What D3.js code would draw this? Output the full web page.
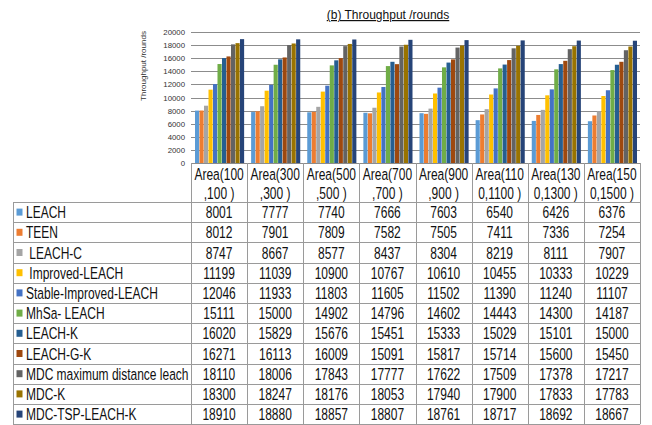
<!DOCTYPE html>
<html>
<head>
<meta charset="utf-8">
<script src="https://cdn.jsdelivr.net/npm/d3@7"></script>
<style>
  body { margin: 0; background: #fff; }
  svg { display: block; font-family: "Liberation Sans", Arial, sans-serif; }
  text { white-space: pre; }
</style>
</head>
<body>
<svg id="chart" width="652" height="425"></svg>
<script>
// header text of each area column (two lines)
const areas = [
    ["Area(100", ",100 )"],
    ["Area(300", ",300 )"],
    ["Area(500", ",500 )"],
    ["Area(700", ",700 )"],
    ["Area(900", ",900 )"],
    ["Area(110", "0,1100 )"],
    ["Area(130", "0,1300 )"],
    ["Area(150", "0,1500 )"]
];

const seriesNames = [
    "LEACH", "TEEN", " LEACH-C", " Improved-LEACH", "Stable-Improved-LEACH",
    "MhSa- LEACH", "LEACH-K", "LEACH-G-K", "MDC maximum distance leach",
    "MDC-K", "MDC-TSP-LEACH-K"
];

const seriesColors = [
    "#5b9bd5", "#ed7d31", "#a5a5a5", "#ffc000", "#4472c4",
    "#70ad47", "#255e91", "#9e480e", "#636363", "#997300", "#264478"
];

const leach          = [8001, 7777, 7740, 7666, 7603, 6540, 6426, 6376];
const teen           = [8012, 7901, 7809, 7582, 7505, 7411, 7336, 7254];
const leachC         = [8747, 8667, 8577, 8437, 8304, 8219, 8111, 7907];
const improvedLeach  = [11199, 11039, 10900, 10767, 10610, 10455, 10333, 10229];
const stableImproved = [12046, 11933, 11803, 11605, 11502, 11390, 11240, 11107];
const mhsaLeach      = [15111, 15000, 14902, 14796, 14602, 14443, 14300, 14187];
const leachK         = [16020, 15829, 15676, 15451, 15333, 15029, 15101, 15000];
const leachGK        = [16271, 16113, 16009, 15091, 15817, 15714, 15600, 15450];
const mdcMax         = [18110, 18006, 17843, 17777, 17622, 17509, 17378, 17217];
const mdcK           = [18300, 18247, 18176, 18053, 17940, 17900, 17833, 17783];
const mdcTspLeachK   = [18910, 18880, 18857, 18807, 18761, 18717, 18692, 18667];

const seriesValues = [leach, teen, leachC, improvedLeach, stableImproved,
    mhsaLeach, leachK, leachGK, mdcMax, mdcK, mdcTspLeachK];

const yTicks = [0, 2000, 4000, 6000, 8000, 10000, 12000, 14000, 16000, 18000, 20000];

const plotLeft = 191, plotRight = 640,
      plotTop = 32, plotBottom = 163,
      tableLeft = 13,
      headerBottom = 202,
      rowHeight = 20.2,
      stretch = 1.4;

const svg = d3.select("#chart");

const x = d3.scaleBand()
    .domain(d3.range(areas.length))
    .range([plotLeft, plotRight]);

const xInner = d3.scaleBand()
    .domain(d3.range(seriesNames.length))
    .range([4, x.bandwidth() - 3])
    .paddingInner(0.08);

const y = d3.scaleLinear()
    .domain([0, 20000])
    .range([plotBottom, plotTop]);

// title
svg.append("text")
    .attr("x", 388)
    .attr("y", 19)
    .attr("text-anchor", "middle")
    .attr("font-size", 12)
    .attr("fill", "#111")
    .attr("text-decoration", "underline")
    .text("(b) Throughput /rounds");

// gridlines
svg.append("g")
    .selectAll("line")
    .data(yTicks)
    .join("line")
    .attr("x1", plotLeft)
    .attr("x2", plotRight)
    .attr("y1", d => Math.round(y(d)) + 0.5)
    .attr("y2", d => Math.round(y(d)) + 0.5)
    .attr("stroke", "#8c8c8c")
    .attr("stroke-width", 1);

// y tick labels
svg.append("g")
    .selectAll("text")
    .data(yTicks)
    .join("text")
    .attr("x", 185)
    .attr("y", d => y(d) + 3)
    .attr("text-anchor", "end")
    .attr("font-size", 7.8)
    .attr("fill", "#333")
    .text(d => d);

// y axis title
svg.append("text")
    .attr("transform", "translate(146,66) rotate(-90)")
    .attr("text-anchor", "middle")
    .attr("font-size", 8)
    .attr("fill", "#333")
    .text("Throughput /rounds");

// bars
const groups = svg.append("g")
    .selectAll("g")
    .data(areas)
    .join("g")
    .attr("transform", (d, i) => `translate(${x(i)},0)`);

groups.selectAll("rect")
    .data((d, i) => seriesValues.map((vals, s) => ({ s: s, v: vals[i] })))
    .join("rect")
    .attr("x", d => xInner(d.s))
    .attr("width", xInner.bandwidth())
    .attr("y", d => y(d.v))
    .attr("height", d => y(0) - y(d.v))
    .attr("fill", d => seriesColors[d.s]);

// data table
// ----------------------------------------
const table = svg.append("g");
const nRows = seriesNames.length;
const tableBottom = headerBottom + nRows * rowHeight;
const lineColor = "#9a9a9a";

// horizontal rules
table.selectAll("line.h")
    .data(d3.range(nRows + 1))
    .join("line")
    .attr("class", "h")
    .attr("x1", tableLeft)
    .attr("x2", plotRight)
    .attr("y1", i => Math.round(headerBottom + i * rowHeight) + 0.5)
    .attr("y2", i => Math.round(headerBottom + i * rowHeight) + 0.5)
    .attr("stroke", lineColor);

// vertical rules
const colEdges = d3.range(areas.length + 1).map(i => i < areas.length ? x(i) : plotRight);
table.selectAll("line.v")
    .data(colEdges)
    .join("line")
    .attr("class", "v")
    .attr("x1", d => Math.round(d) + 0.5)
    .attr("x2", d => Math.round(d) + 0.5)
    .attr("y1", plotBottom)
    .attr("y2", tableBottom)
    .attr("stroke", lineColor);

table.append("line")
    .attr("x1", tableLeft + 0.5).attr("x2", tableLeft + 0.5)
    .attr("y1", headerBottom).attr("y2", tableBottom)
    .attr("stroke", lineColor);

function stretchedText(sel, tx, ty) {
    return sel.attr("transform", `translate(${tx},${ty}) scale(1,${stretch})`);
}

// header
areas.forEach((lines, i) => {
    const cx = x(i) + x.bandwidth() / 2;
    lines.forEach((t, k) => {
        table.append("text")
            .call(stretchedText, cx, 180 + k * 19)
            .attr("text-anchor", "middle")
            .attr("font-size", 12)
            .attr("fill", "#111")
            .text(t);
    });
});

// rows
seriesNames.forEach((name, s) => {
    const cy = headerBottom + s * rowHeight + rowHeight / 2;
    table.append("rect")
        .attr("x", 16.5)
        .attr("y", cy - 3.5)
        .attr("width", 6)
        .attr("height", 7)
        .attr("fill", seriesColors[s]);
    table.append("text")
        .call(stretchedText, 26, cy + 6)
        .attr("font-size", 12)
        .attr("fill", "#111")
        .text(name);
    seriesValues[s].forEach((v, i) => {
        table.append("text")
            .call(stretchedText, x(i) + x.bandwidth() / 2, cy + 6)
            .attr("text-anchor", "middle")
            .attr("font-size", 12)
            .attr("fill", "#111")
            .text(v);
    });
});
</script>
</body>
</html>
